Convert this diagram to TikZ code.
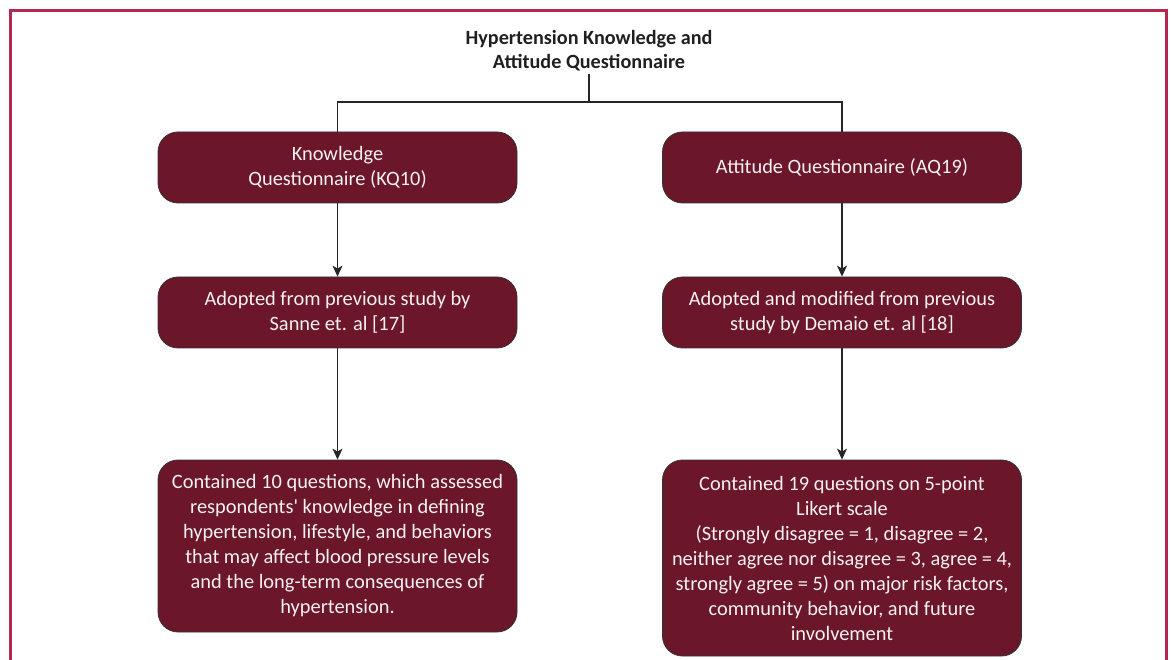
\documentclass[tikz,border=0pt]{standalone}
\usepackage{fontspec}
\setmainfont{Carlito}
\usetikzlibrary{arrows.meta}
\definecolor{boxred}{HTML}{6B1629}
\definecolor{framered}{HTML}{B3284F}
\tikzset{
  qbox/.style={draw=black!80, line width=0.8pt, fill=boxred, rounded corners=20pt,
    text=white!94!boxred, align=center, font=\fontsize{20.4}{25}\selectfont,
    inner sep=0pt, minimum width=359pt},
  link/.style={draw=black!85, line width=1.2pt},
  arr/.style={link, -{Stealth[length=11pt,width=10pt,inset=3pt]}}
}
\begin{document}
\begin{tikzpicture}[x=1pt,y=-1pt]
        \useasboundingbox (0,0) rectangle (1171,660);
        \draw[framered, line width=3pt] (10,680) -- (10,11) -- (1166,11) -- (1166,680);
        \node[font=\bfseries\fontsize{20.2}{24}\selectfont, align=center, text=black!88, inner sep=2pt] (title) at (589,51) {Hypertension Knowledge and\\Attitude Questionnaire};
        \coordinate (split) at (589,102);
        % left column
        \node[qbox, minimum height=71pt] (kq) at (337.5,167.5) {Knowledge\\Questionnaire (KQ10)};
        \node[qbox, minimum height=71pt] (kqsrc) at (337.5,312.5) {Adopted from previous study by\\Sanne et. al [17]};
        \node[qbox, minimum height=172pt] (kqitems) at (337.5,546) {Contained 10 questions, which assessed\\respondents\textquotesingle{} knowledge in defining\\hypertension, lifestyle, and behaviors\\that may affect blood pressure levels\\and the long-term consequences of\\hypertension.};
        % right column
        \node[qbox, minimum height=71pt] (aq) at (842,167.5) {Attitude Questionnaire (AQ19)};
        \node[qbox, minimum height=71pt] (aqsrc) at (842,312.5) {Adopted and modified from previous\\study by Demaio et. al [18]};
        \node[qbox, minimum height=196pt] (aqitems) at (842,558) {Contained 19 questions on 5-point\\Likert scale\\(Strongly disagree = 1, disagree = 2,\\neither agree nor disagree = 3, agree = 4,\\strongly agree = 5) on major risk factors,\\community behavior, and future\\involvement};
        % connectors
        \draw[link] (title.south) -- (split);
        \draw[link] (kq.north) |- (split) -| (aq.north);
        \draw[arr] (kq) -- (kqsrc);
        \draw[arr] (kqsrc) -- (kqitems);
        \draw[arr] (aq) -- (aqsrc);
        \draw[arr] (aqsrc) -- (aqitems);
\end{tikzpicture}
\end{document}
